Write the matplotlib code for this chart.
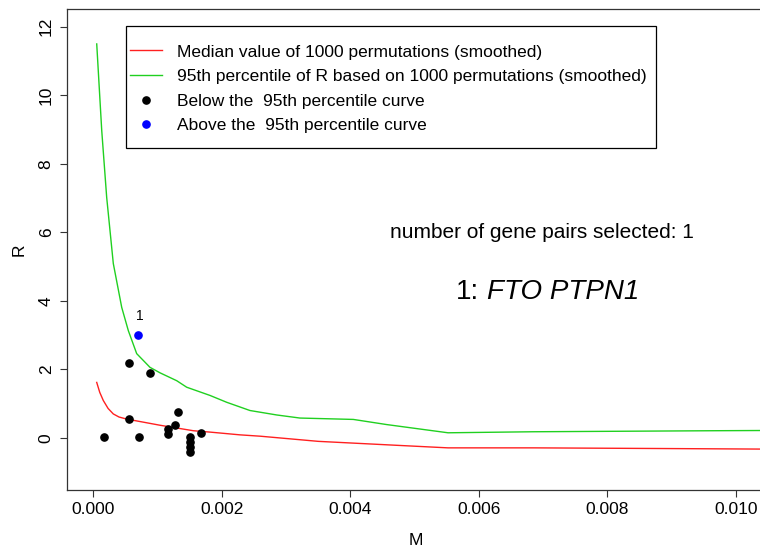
import matplotlib
matplotlib.use('Agg')
import matplotlib.pyplot as plt
from matplotlib.lines import Line2D
from matplotlib.patches import Rectangle

plt.rcParams['font.family'] = ['Liberation Sans', 'DejaVu Sans']

# smoothed 95th percentile curve
m_p95 = [0.000053, 0.000131, 0.000208, 0.000311, 0.000442, 0.000545, 0.000675,
         0.000882, 0.001038, 0.001298, 0.001453, 0.001816, 0.002076, 0.002438,
         0.002854, 0.003216, 0.004046, 0.004565, 0.005520, 0.006846, 0.009647, 0.0108]
r_p95 = [11.5, 8.97, 7.02, 5.09, 3.81, 3.13, 2.46,
         2.06, 1.90, 1.67, 1.48, 1.24, 1.04, 0.80,
         0.67, 0.58, 0.54, 0.39, 0.15, 0.18, 0.21, 0.22]

# smoothed median curve
m_med = [0.000053, 0.0001, 0.000156, 0.00023, 0.000311, 0.0004, 0.00052, 0.001038,
         0.001556, 0.001816, 0.00228, 0.0026, 0.0035, 0.00477, 0.00552, 0.00685,
         0.0089, 0.0108]
r_med = [1.62, 1.33, 1.09, 0.86, 0.70, 0.61, 0.55, 0.37,
         0.21, 0.17, 0.09, 0.05, -0.10, -0.22, -0.29, -0.29,
         -0.31, -0.33]

# gene pairs below the curve
m_below = [0.000171, 0.000556, 0.000556, 0.000716, 0.00088, 0.00117, 0.00117,
           0.00127, 0.00132, 0.0015, 0.0015, 0.0015, 0.0015, 0.00168]
r_below = [0.04, 0.55, 2.18, 0.04, 1.89, 0.26, 0.11,
           0.39, 0.77, 0.02, -0.13, -0.27, -0.42, 0.15]

# gene pairs above the curve
m_above = [0.00070]
r_above = [3.01]
above_ids = ['1']
gene_pairs = ['FTO PTPN1']

fig = plt.figure(figsize=(7.6, 5.56), dpi=100)
ax = fig.add_axes([0.08855, 0.11871, 0.92197, 0.86511])

ax.plot(m_med, r_med, color='#ff2020', lw=1.0)
ax.plot(m_p95, r_p95, color='#20d020', lw=1.0)
ax.plot(m_below, r_below, 'o', color='black', ms=5.2)
ax.plot(m_above, r_above, 'o', color='#0000ff', ms=5.2)
for m, r, lab in zip(m_above, r_above, above_ids):
    ax.text(m + 0.00003, r + 0.56, lab, fontsize=10, ha='center', va='center')

ax.set_xlim(-0.000405, 0.0105)
ax.set_ylim(-1.52, 12.52)
ax.set_xticks([0.0, 0.002, 0.004, 0.006, 0.008, 0.010])
ax.set_xticklabels(['0.000', '0.002', '0.004', '0.006', '0.008', '0.010'])
ax.set_yticks([0, 2, 4, 6, 8, 10, 12])
ax.tick_params(axis='both', direction='out', length=5.3, width=0.8,
               color='#333333', labelsize=12.5)
ax.tick_params(axis='x', pad=3.5)
ax.tick_params(axis='y', pad=4.5, labelrotation=90)
for lab in ax.get_yticklabels():
    lab.set_va('center')
for sp in ax.spines.values():
    sp.set_color('#333333')
    sp.set_linewidth(0.9)

ax.set_xlabel('M', fontsize=12.5)
ax.set_ylabel('R', fontsize=12.5)
ax.xaxis.set_label_coords(0.4977, -0.090)
ax.yaxis.set_label_coords(-0.058, 0.5)

ax.text(0.00698, 6.0, 'number of gene pairs selected: %d' % len(m_above),
        fontsize=15, ha='center', va='center')
ax.text(0.005643, 4.25, above_ids[0] + ':', fontsize=20, ha='left', va='center')
ax.text(0.006124, 4.25, gene_pairs[0], fontsize=20, ha='left', va='center',
        style='italic')

handles = [Line2D([], [], color='#ff2020', lw=1.0),
           Line2D([], [], color='#20d020', lw=1.0),
           Line2D([], [], marker='o', ls='', color='black', ms=5.2),
           Line2D([], [], marker='o', ls='', color='#0000ff', ms=5.2)]
labels = ['Median value of 1000 permutations (smoothed)',
          '95th percentile of R based on 1000 permutations (smoothed)',
          'Below the  95th percentile curve',
          'Above the  95th percentile curve']
ax.legend(handles, labels, loc='upper left', bbox_to_anchor=(0.0895, 0.9264),
          frameon=False, borderpad=0, borderaxespad=0, fontsize=12.5,
          handlelength=1.82, handletextpad=0.9, labelspacing=0.54)
ax.add_patch(Rectangle((0.0833, 0.7104), 0.7567, 0.2543, transform=ax.transAxes,
                       fill=False, edgecolor='black', lw=0.9, zorder=5))

fig.savefig('out.png', dpi=100)
